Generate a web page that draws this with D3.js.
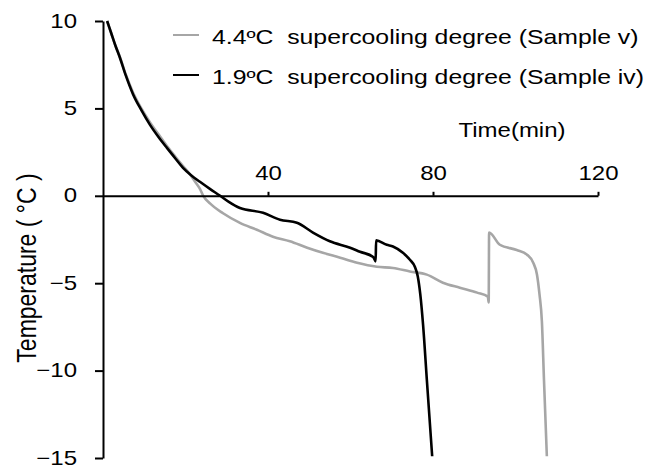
<!DOCTYPE html>
<html>
<head>
<meta charset="utf-8">
<script src="https://cdn.jsdelivr.net/npm/d3@7/dist/d3.min.js"></script>
<style>
  body { margin: 0; background: #fff; }
  svg { display: block; }
  text { font-family: "Liberation Sans", Arial, sans-serif; fill: #000; }
</style>
</head>
<body>
<svg width="650" height="468"></svg>
<script>
// sample v (4.4 C supercooling), grey
var timeV = [1, 2, 3, 4.1, 5.5, 7.3, 9.3, 11.4, 13.5, 15.5, 17.5, 19.4, 21, 22.5, 23.5, 24.3, 26, 29.1, 33.2, 37.3, 41.2,
  45.3, 49.5, 53.3, 57.5, 61.6, 66.4, 70.3, 74.4, 78.5, 82.4, 86.5, 90.7, 93.3, 93.5, 93.6, 96.2, 100.3, 102.8, 104.3,
  105.2, 105.8, 106.4, 106.9, 107.6];
var tempV = [10, 9.3, 8.6, 7.95, 6.95, 5.9, 5.0, 4.2, 3.5, 2.85, 2.25, 1.7, 1.25, 0.75, 0.4, 0.0, -0.45, -1.0, -1.55, -1.94, -2.34,
  -2.6, -2.97, -3.26, -3.54, -3.83, -4.06, -4.13, -4.33, -4.51, -4.97, -5.26, -5.54, -5.77, -6.1, -2.1, -2.8, -3.1, -3.37, -3.83,
  -4.5, -5.6, -7.2, -10.5, -14.9];

// sample iv (1.9 C supercooling), black
var timeIV = [1, 2, 3, 4.1, 5.5, 7.3, 9.3, 11.4, 13.5, 15.5, 17.5, 19.4, 21.5, 23.5, 26, 28.4, 30.5, 33.2, 38.8, 42.9,
  47, 50.9, 55, 59.9, 62.3, 65.5, 66.1, 66.2, 68.8, 70.3, 72.7, 74.4, 75.6, 76.3, 76.9, 77.6, 78.5, 79.8];
var tempIV = [10, 9.3, 8.6, 7.9, 6.9, 5.8, 4.9, 4.06, 3.35, 2.74, 2.15, 1.6, 1.15, 0.8, 0.38, 0.0, -0.35, -0.7, -0.97, -1.37,
  -1.54, -2.1, -2.6, -2.97, -3.2, -3.5, -3.75, -2.55, -2.8, -2.9, -3.26, -3.66, -4.06, -4.6, -5.6, -7.4, -10.5, -14.9];

var yTicks = [10, 5, 0, -5, -10, -15];
var xTicks = [40, 80, 120];
var legendLabels = ["4.4\u00baC\u00a0\u00a0supercooling degree (Sample v)", "1.9\u00baC\u00a0\u00a0supercooling degree (Sample iv)"];
var colors = ["#a6a6a6", "#000000"];

var sx = 1.2; // source image is stretched horizontally

var svg = d3.select("svg");
var x = d3.scaleLinear().domain([0, 120]).range([103, 598]);
var y = d3.scaleLinear().domain([-15, 10]).range([458, 21]);

var line = d3.line()
  .curve(d3.curveMonotoneX)
  .x(function (d) { return x(d[0]); })
  .y(function (d) { return y(d[1]); });

var series = [d3.zip(timeV, tempV), d3.zip(timeIV, tempIV)];
svg.selectAll(".series")
  .data(series)
  .enter().append("path")
  .attr("class", "series")
  .attr("d", line)
  .attr("fill", "none")
  .attr("stroke", function (d, i) { return colors[i]; })
  .attr("stroke-width", 2.6)
  .attr("stroke-linejoin", "round");

// y axis
var gy = svg.append("g")
  .attr("transform", "translate(103,0)")
  .call(d3.axisLeft(y).tickValues(yTicks).tickSize(8).tickSizeOuter(0).tickPadding(18));
gy.selectAll("text")
  .attr("x", -26 / sx)
  .attr("dy", "0.3em")
  .attr("transform", "scale(" + sx + ",1)")
  .style("font-size", "20px");

// x axis, drawn at y = 0
var gx = svg.append("g")
  .attr("transform", "translate(0," + y(0) + ")")
  .call(d3.axisTop(x).tickValues(xTicks).tickSize(4).tickSizeOuter(0).tickPadding(12));
gx.selectAll("text")
  .attr("transform", "scale(" + sx + ",1)")
  .style("font-size", "20px");

svg.selectAll(".domain, .tick line").attr("stroke", "#000").attr("stroke-width", 2);
svg.selectAll("g").attr("font-family", null).attr("font-size", null);

svg.append("text")
  .attr("transform", "translate(512,137) scale(1.2,1)")
  .attr("text-anchor", "middle")
  .style("font-size", "20px")
  .text("Time(min)");

svg.append("text")
  .attr("transform", "translate(26,268) rotate(-90) scale(1," + sx + ")")
  .attr("text-anchor", "middle")
  .attr("dy", "0.35em")
  .style("font-size", "23px")
  .text("Temperature ( \u00b0C )");

// legend
var lg = svg.selectAll(".legend")
  .data(legendLabels)
  .enter().append("g")
  .attr("class", "legend")
  .attr("transform", function (d, i) { return "translate(173," + (35 + i * 40) + ")"; });
lg.append("line")
  .attr("x1", 0).attr("x2", 26)
  .attr("stroke", function (d, i) { return colors[i]; })
  .attr("stroke-width", 2);
lg.append("text")
  .attr("transform", "translate(39,9) scale(1.24,1)")
  .style("font-size", "20px")
  .text(function (d) { return d; });
</script>
</body>
</html>
